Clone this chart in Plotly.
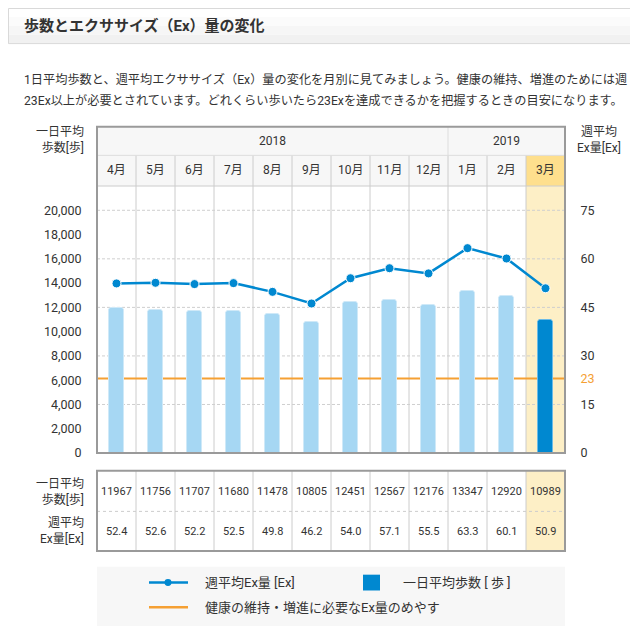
import plotly.graph_objects as go

months = ["4月", "5月", "6月", "7月", "8月", "9月", "10月", "11月", "12月", "1月", "2月", "3月"]
years = ["2018", "2019"]
year_span = [9, 3]  # months under each year
steps = [11967, 11756, 11707, 11680, 11478, 10805, 12451, 12567, 12176, 13347, 12920, 10989]
ex = [52.4, 52.6, 52.2, 52.5, 49.8, 46.2, 54.0, 57.1, 55.5, 63.3, 60.1, 50.9]
ex_target = 23
step_ticks = [0, 2000, 4000, 6000, 8000, 10000, 12000, 14000, 16000, 18000, 20000]
ex_ticks = [0, 15, 23, 30, 45, 60, 75]
grid_steps = [4000, 8000, 12000, 16000, 20000]

# the page puts the plot 8px in from the top-left corner
OFF = 8
W, H = 638 - OFF, 642 - OFF
FONT = "Roboto, 'Noto Sans CJK JP', sans-serif"
TXT = "#333333"
BLUE = "#0088d0"
LIGHT = "#a6d7f3"
ORANGE = "#f5a033"
CREAM = "#fdefc6"

# frame geometry, in page pixels
L, R = 97, 565
TOP, YEAR_B, MONTH_B, BOT = 128, 157, 188, 458
T_TOP, T_MID, T_BOT = 476, 517, 557
COLW = (R - L) / len(months)
edges = [L + i * COLW for i in range(len(months) + 1)]


def px(x):
    return (x - OFF) / W


def py(y):
    return 1 - (y - OFF) / H


def rect(x0, y0, x1, y1, fill=None, line=None, lw=1, layer="below"):
    return dict(type="rect", xref="paper", yref="paper",
                x0=px(x0), x1=px(x1), y0=py(y0), y1=py(y1),
                fillcolor=fill or "rgba(0,0,0,0)",
                line=dict(color=line or "rgba(0,0,0,0)", width=lw if line else 0),
                layer=layer)


def hline(x0, x1, y, color, width=1, dash="solid", layer="below"):
    return dict(type="line", xref="paper", yref="paper",
                x0=px(x0), x1=px(x1), y0=py(y), y1=py(y),
                line=dict(color=color, width=width, dash=dash), layer=layer)


def vline(x, y0, y1, color, width=1, layer="below"):
    return dict(type="line", xref="paper", yref="paper",
                x0=px(x), x1=px(x), y0=py(y0), y1=py(y1),
                line=dict(color=color, width=width), layer=layer)


def text(x, y, s, size=12, anchor="left", color=TXT, xref="paper"):
    return dict(x=px(x) if xref == "paper" else x, y=py(y), xref=xref, yref="paper",
                text=s, showarrow=False, xanchor=anchor, yanchor="middle",
                font=dict(family=FONT, size=size, color=color))


fig = go.Figure()
fig.add_trace(go.Bar(
    x=months, y=steps, yaxis="y", width=0.38,
    marker=dict(color=[LIGHT] * (len(months) - 1) + [BLUE],
                line=dict(color=["#cfe9f8"] * (len(months) - 1) + ["#6cbbe6"], width=1),
                cornerradius=3),
    hoverinfo="skip"))
fig.add_trace(go.Scatter(
    x=months, y=ex, yaxis="y2", mode="lines+markers",
    line=dict(color=BLUE, width=2.5),
    marker=dict(size=9, color=BLUE, line=dict(color="white", width=1)),
    hoverinfo="skip"))

shapes = []
# page header box with a soft gradient
for i, c in enumerate(["#ffffff", "#fbfbfb", "#f6f6f6", "#f1f1f1"]):
    shapes.append(rect(OFF, 8 + i * 9, 640, 8 + (i + 1) * 9, fill=c))
shapes.append(rect(OFF + 0.5, 8.5, 640, 44, line="#d9d9d9"))

# chart header rows and highlighted column
shapes.append(rect(L, TOP, R, MONTH_B, fill="#f7f7f7"))
shapes.append(rect(edges[-2], YEAR_B, R, MONTH_B, fill="#fedf8d"))
shapes.append(rect(edges[-2], MONTH_B, R, BOT, fill=CREAM))
shapes.append(rect(edges[-2], T_TOP, R, T_BOT, fill=CREAM))

for i in range(1, len(months)):
    shapes.append(vline(edges[i], YEAR_B, BOT, "#cccccc"))
    shapes.append(vline(edges[i], T_TOP, T_BOT, "#cccccc"))
shapes.append(vline(edges[year_span[0]], TOP, YEAR_B, "#dddddd"))
shapes.append(hline(L, R, YEAR_B, "#dddddd"))
shapes.append(hline(L, R, MONTH_B, "#cccccc"))

for g in grid_steps:
    shapes.append(dict(type="line", xref="paper", yref="y", x0=px(L), x1=px(R), y0=g, y1=g,
                       line=dict(color="#cfcfcf", width=1, dash="3px,2px"), layer="below"))
shapes.append(dict(type="line", xref="paper", yref="y2", x0=px(L), x1=px(R),
                   y0=ex_target, y1=ex_target, line=dict(color=ORANGE, width=2), layer="below"))

shapes.append(rect(L, TOP, R, BOT, line="#9a9a9a", lw=2, layer="above"))
shapes.append(hline(L, R, T_MID, "#cccccc", dash="dot"))
shapes.append(rect(L, T_TOP, R, T_BOT, line="#9a9a9a", lw=2, layer="above"))

# legend box
shapes.append(rect(L, 573, R, 633, fill="#f7f7f7"))
shapes.append(hline(149, 188, 589, BLUE, width=2.5))
shapes.append(dict(type="circle", xref="paper", yref="paper", fillcolor=BLUE,
                   line=dict(color=BLUE, width=0),
                   x0=px(164.5), x1=px(171.5), y0=py(585.5), y1=py(592.5)))
shapes.append(dict(type="rect", xref="paper", yref="paper", fillcolor=BLUE,
                   line=dict(color=BLUE, width=0),
                   x0=px(363), x1=px(380), y0=py(581), y1=py(597)))
shapes.append(hline(149, 188, 614, ORANGE, width=2.5))

ann = []
ann.append(text(22, 26, "<b>歩数とエクササイズ（Ex）量の変化</b>", size=15))
ann.append(text(22, 80, "1日平均歩数と、週平均エクササイズ（Ex）量の変化を月別に見てみましょう。健康の維持、増進のためには週", size=12.2))
ann.append(text(22, 102, "23Ex以上が必要とされています。どれくらい歩いたら23Exを達成できるかを把握するときの目安になります。", size=12.2))
ann.append(dict(text(86, 141, "一日平均<br>歩数[歩]", size=12, anchor="right"), align="right"))
ann.append(text(575, 141, "週平均<br>Ex量[Ex]", size=12))

start = 0
for yr, span in zip(years, year_span):
    ann.append(text((edges[start] + edges[start + span]) / 2, 142, yr, size=12, anchor="center"))
    start += span
for m in months:
    ann.append(text(m, 172, m, size=12, anchor="center", xref="x"))

ann.append(dict(text(86, 497, "一日平均<br>歩数[歩]", size=12, anchor="right"), align="right"))
ann.append(dict(text(86, 537, "週平均<br>Ex量[Ex]", size=12, anchor="right"), align="right"))
for m, s, e in zip(months, steps, ex):
    ann.append(text(m, 497, str(s), size=11, anchor="center", xref="x"))
    ann.append(text(m, 537, f"{e:.1f}", size=11, anchor="center", xref="x"))

ann.append(text(203, 589, "週平均Ex量 [Ex]", size=13))
ann.append(text(401, 589, "一日平均歩数 [ 歩 ]", size=13))
ann.append(text(203, 614, "健康の維持・増進に必要なEx量のめやす", size=13))

y_top = 22000
fig.update_layout(
    width=W, height=H, margin=dict(l=0, r=0, t=0, b=0),
    paper_bgcolor="white", plot_bgcolor="rgba(0,0,0,0)",
    showlegend=False, bargap=0,
    font=dict(family=FONT, size=12, color=TXT),
    xaxis=dict(domain=[px(L), px(R)], type="category", range=[-0.5, len(months) - 0.5],
               showticklabels=False, showgrid=False, zeroline=False, showline=False),
    yaxis=dict(domain=[py(BOT), py(MONTH_B)], range=[0, y_top],
               tickvals=step_ticks, ticktext=[f"{v:,}" for v in step_ticks],
               showgrid=False, zeroline=False, showline=False,
               ticks="outside", ticklen=12, tickcolor="rgba(0,0,0,0)",
               tickfont=dict(family=FONT, size=12.5, color=TXT)),
    yaxis2=dict(overlaying="y", side="right", range=[0, y_top * 75 / 20000],
                tickvals=ex_ticks,
                ticktext=[f'<span style="color:{ORANGE}">{v}</span>' if v == ex_target else str(v)
                          for v in ex_ticks],
                showgrid=False, zeroline=False, showline=False,
                ticks="outside", ticklen=12, tickcolor="rgba(0,0,0,0)",
                tickfont=dict(family=FONT, size=12.5, color=TXT)),
    shapes=shapes, annotations=ann,
)

fig.write_html("out.html")
